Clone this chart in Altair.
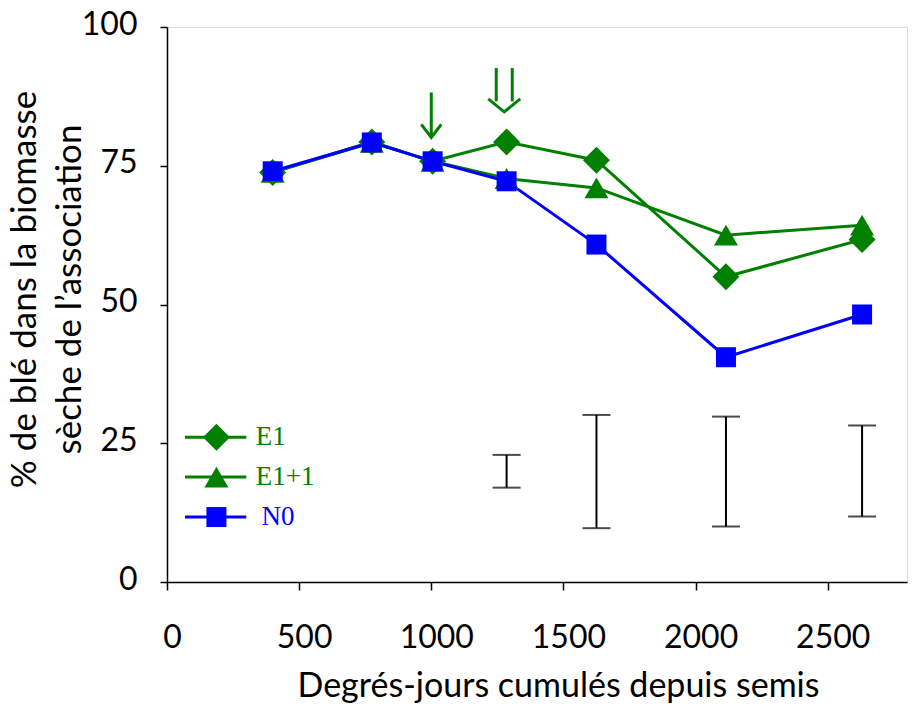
import altair as alt
import pandas as pd

# ---- data ----
x_days = [400, 775, 1005, 1285, 1625, 2115, 2630]
e1 = [73.8, 79.3, 75.8, 79.3, 76.0, 55.0, 61.7]
e1p1 = [73.8, 79.2, 75.8, 72.7, 71.0, 62.5, 64.3]
n0 = [74.0, 79.2, 75.8, 72.2, 60.8, 40.5, 48.2]

err_x = [1285, 1625, 2115, 2630]
err_low = [17.0, 9.7, 10.0, 11.8]
err_high = [22.9, 30.1, 29.8, 28.2]

x_ticks = [0, 500, 1000, 1500, 2000, 2500]
y_ticks = [0, 25, 50, 75, 100]

series_names = ["E1", "E1+1", "N0"]
series_values = [e1, e1p1, n0]
series_colors = ["#008000", "#008000", "#0000FF"]
series_shapes = ["diamond", "triangle-up", "square"]
series_sizes = [729, 576, 400]
draw_order = [1, 0, 2]  # triangles below diamonds below squares

legend_y = [26.1, 18.9, 11.7]
legend_x_start = [68, 68, 68]
legend_x_end = [300, 300, 300]
legend_marker_x = [187, 187, 187]
legend_text_x = [336, 336, 358]

# arrows (application dates)
arrow1_x = [1000]
arrow1_top = [88.2]
arrow1_tip = [80.1]
arrow2_x = [1276]
arrow2_top = [92.6]
arrow2_shaft_end = [86.6]
arrow2_tip = [84.7]

GREEN = "#008000"
FONT = "Lato"

xenc = alt.X(
    "x:Q",
    scale=alt.Scale(domain=[0, 2800], nice=False, zero=False),
    axis=alt.Axis(
        values=x_ticks, format="d", tickSize=8, tickColor="black", tickWidth=1.5,
        domainColor="black", domainWidth=1.5, grid=False,
        labelFont=FONT, labelFontSize=32, labelColor="black",
        labelPadding=32, labelOffset=5, labelFlush=False, labelBound=False,
        title="Degrés-jours cumulés depuis semis",
        titleFont=FONT, titleFontSize=34, titleFontWeight="normal",
        titleColor="black", titleX=391, titleY=114,
        titleAlign="center", titleBaseline="alphabetic",
    ),
)
yenc = alt.Y(
    "y:Q",
    scale=alt.Scale(domain=[0, 100], nice=False, zero=False),
    axis=alt.Axis(
        values=y_ticks, format="d", tickSize=7, tickColor="black", tickWidth=1.5,
        domainColor="black", domainWidth=1.5, grid=False,
        labelFont=FONT, labelFontSize=32, labelColor="black",
        labelPadding=23, labelOffset=-3, labelFlush=False,
        title=["% de blé dans la biomasse", "sèche de l’association"],
        titleFont=FONT, titleFontSize=35, titleFontWeight="normal",
        titleColor="black", titleAngle=270, titleX=-132, titleY=262,
        titleAlign="center", titleBaseline="alphabetic", titleLineHeight=45,
    ),
)

layers = []

# error bars
err_df = pd.DataFrame({"x": err_x, "y": err_low, "y2": err_high})
layers.append(alt.Chart(err_df).mark_rule(color="black", strokeWidth=2).encode(
    x=xenc, y=yenc, y2="y2"))
layers.append(alt.Chart(err_df).mark_tick(color="black", orient="horizontal", size=28, thickness=2).encode(
    x=xenc, y=yenc))
layers.append(alt.Chart(err_df).mark_tick(color="black", orient="horizontal", size=28, thickness=2).encode(
    x=xenc, y=alt.Y("y2:Q")))

# series lines + markers
for i in draw_order:
    df = pd.DataFrame({"x": x_days, "y": series_values[i]})
    layers.append(alt.Chart(df).mark_line(color=series_colors[i], strokeWidth=3).encode(x=xenc, y=yenc))
for i in draw_order:
    df = pd.DataFrame({"x": x_days, "y": series_values[i]})
    layers.append(alt.Chart(df).mark_point(
        shape=series_shapes[i], filled=True, size=series_sizes[i],
        color=series_colors[i], opacity=1).encode(x=xenc, y=yenc))

# legend drawn inside the plot
for i in range(3):
    ldf = pd.DataFrame({"x": [legend_x_start[i]], "x2": [legend_x_end[i]],
                        "y": [legend_y[i]], "xm": [legend_marker_x[i]],
                        "xt": [legend_text_x[i]], "label": [series_names[i]]})
    layers.append(alt.Chart(ldf).mark_rule(color=series_colors[i], strokeWidth=3).encode(
        x=xenc, x2="x2", y=yenc))
    layers.append(alt.Chart(ldf).mark_point(
        shape=series_shapes[i], filled=True, size=series_sizes[i],
        color=series_colors[i], opacity=1).encode(x=alt.X("xm:Q"), y=yenc))
    layers.append(alt.Chart(ldf).mark_text(
        font="Liberation Serif", fontSize=27, align="left", baseline="middle",
        color=series_colors[i]).encode(x=alt.X("xt:Q"), y=yenc, text="label:N"))

# arrows
a1 = pd.DataFrame({"x": arrow1_x, "y": arrow1_top, "y2": arrow1_tip})
layers.append(alt.Chart(a1).mark_rule(color=GREEN, strokeWidth=3).encode(x=xenc, y=yenc, y2="y2"))
layers.append(alt.Chart(a1).mark_point(
    shape="M-1,-1.3L0,0L1,-1.3", filled=False, size=400, color=GREEN,
    strokeWidth=3, opacity=1).encode(x=xenc, y=alt.Y("y2:Q")))

a2 = pd.DataFrame({"x": arrow2_x, "y": arrow2_top, "y2": arrow2_shaft_end, "tip": arrow2_tip})
for off in (-8, 8):
    layers.append(alt.Chart(a2).mark_rule(color=GREEN, strokeWidth=3, xOffset=off).encode(
        x=xenc, y=yenc, y2="y2"))
layers.append(alt.Chart(a2).mark_point(
    shape="M-1,-0.8125L0,0L1,-0.8125", filled=False, size=1024, color=GREEN,
    strokeWidth=3, opacity=1).encode(x=xenc, y=alt.Y("tip:Q")))

chart = alt.layer(*layers).properties(
    width=740, height=555,
    autosize=alt.AutoSizeParams(type="none"),
    padding={"left": 167, "top": 27, "right": 5, "bottom": 125},
).configure_view(stroke="black", strokeWidth=1.5).configure(background="white")

chart.save("out.html", embed_options={"renderer": "svg", "actions": False})
